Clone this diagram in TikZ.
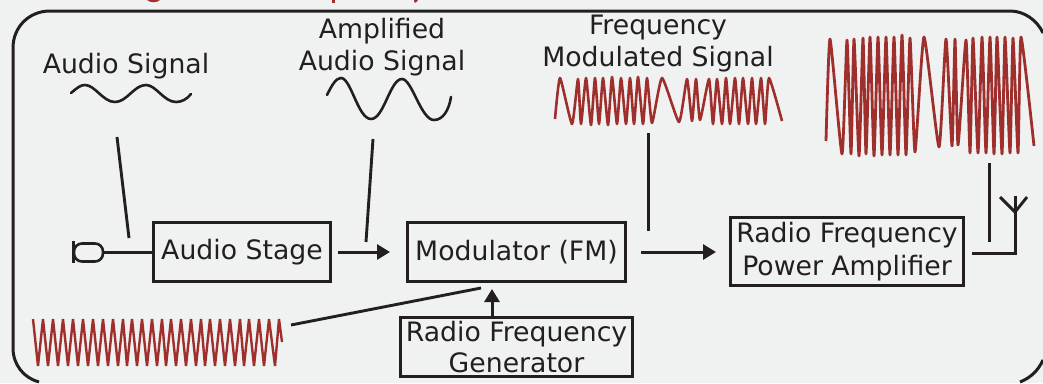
\documentclass[tikz,border=0pt]{standalone}
\usepackage{fontspec}
\setmainfont{DejaVu Sans}
\usetikzlibrary{arrows.meta}
\definecolor{bgc}{HTML}{F0F2F2}
\definecolor{inkc}{HTML}{231F20}
\definecolor{wavec}{HTML}{9E2F2D}
\tikzset{
  x=1pt,y=-1pt,
  every node/.style={text=inkc,font=\fontsize{26.7}{32}\selectfont,inner sep=0pt,align=center},
  blockbox/.style={draw=inkc,line width=3pt,rectangle},
  wire/.style={draw=inkc,line width=3pt},
  slant/.style={draw=inkc,line width=2.9pt},
  flow/.style={wire,-{Triangle[length=13pt,width=15pt]}},
  framing/.style={draw=inkc,line width=3pt},
  blackwave/.style={draw=inkc,line width=2.6pt,line cap=round},
  redwave/.style={draw=wavec,line width=2.6pt,line join=round},
}
\begin{document}
\begin{tikzpicture}
\useasboundingbox (0,0) rectangle (1043,383);
\fill[bgc] (0,0) rectangle (1043,383);
% cut-off title descenders
\fill[wavec] (147,0) .. controls (150,3) and (157,3) .. (160,0) -- cycle;
\fill[wavec] (332,0) rectangle (334.5,2.5);
\fill[wavec] (414,0) -- (418,0) -- (416,2.5) -- (414.5,2.5) -- cycle;
% frame
\draw[framing] (39,382) .. controls (24,378) and (13,365) .. (13,348) -- (13,48) .. controls (13,27) and (29,11) .. (50,11) -- (1010,11) .. controls (1024,11) and (1037,20) .. (1043,33);
\draw[framing] (1043,360) .. controls (1038,371) and (1030,378) .. (1020,382);
% blocks
\node[blockbox,minimum width=177pt,minimum height=59pt] (stage) at (242,252) {\raisebox{1pt}{Audio Stage}};
\node[blockbox,minimum width=218pt,minimum height=59pt] (mod) at (516.5,252) {\raisebox{1pt}{Modulator (FM)}};
\node[blockbox,minimum width=233pt,minimum height=68pt] (pa) at (847,251.5) {\raisebox{-1pt}{\shortstack{Radio Frequency\\[4pt]Power Amplifier}}};
\node[blockbox,minimum width=232pt,minimum height=59pt] (gen) at (516.5,347) {\raisebox{-1pt}{\shortstack{Radio Frequency\\[3pt]Generator}}};
% labels
\node (la) at (126,66) {Audio Signal};
\node (lb) at (382,47) {Amplified\\Audio Signal};
\node (lc) at (658,44) {Frequency\\Modulated Signal};
% connectors
\coordinate (mic) at (102,252);
\draw[wire] (mic) -- (stage.west |- mic);
\draw[flow] (338,252) -- (390,252);
\draw[flow] (641,252) -- (716,252);
\draw[flow] (492,316) -- (492,289);
\draw[wire] (972,253) -- (1015,253) -- (1015,196);
\draw[slant] (1000,197) -- (1015,212) -- (1027,197);
% leader lines
\draw[slant] (117,137) -- (129,238);
\draw[slant] (373,139) -- (366,242);
\draw[wire] (648,133) -- (648,231);
\draw[wire] (989,163) -- (989,242);
\draw[slant] (291,325) -- (481,288);
% microphone
\draw[inkc,line width=2.6pt,rounded corners=8pt] (74,243.5) rectangle (103,261.5);
\draw[inkc,line width=3pt] (73,241) -- (73,263);
% waves
\draw[blackwave] (71,93) .. controls (78,87) and (81,85) .. (85,85) .. controls (95,85) and (103,102) .. (115,102) .. controls (127,102) and (134,85) .. (146,85) .. controls (156,85) and (164,102) .. (176,102) .. controls (182,102) and (187,99) .. (191,94);
\draw[blackwave] (327,95) .. controls (332,85) and (336,78) .. (341,78) .. controls (351,78) and (358,119) .. (371,119) .. controls (384,119) and (390,79) .. (402,79) .. controls (412,79) and (421,120) .. (434,120) .. controls (443,120) and (449,110) .. (451,97);
\draw[redwave] plot[smooth,tension=.3] coordinates {(555,119)(560,78)(572,124)(578,79)(581,124)(586,78)(591,125)(595,78)(599,124)(603,78)(608,125)(612,77)(617,124)(621,78)(626,124)(630,78)(634,124)(638,77)(643,124)(647,78)(652,123)(662,78)(679,122)(687,79)(692,121)(696,79)(700,120)(709,79)(713,124)(717,79)(722,124)(726,78)(730,124)(735,78)(739,124)(743,78)(748,124)(752,78)(756,124)(761,78)(765,124)(769,78)(782,121)};
\draw[redwave,line width=2.8pt] plot[smooth,tension=.3] coordinates {(826,141)(830,39)(842,154)(847,40)(851,154)(854,39)(859,156)(863,38)(866,154)(870,37)(874,156)(878,37)(882,155)(886,37)(890,155)(894,37)(898,155)(902,35)(906,155)(910,38)(915,152)(924,37)(939,147)(946,39)(952,146)(955,39)(958,145)(966,40)(970,153)(973,38)(978,153)(982,37)(986,153)(990,37)(994,154)(997,37)(1002,154)(1005,37)(1010,153)(1013,38)(1018,153)(1021,37)(1034,146)};
\draw[redwave,line width=2.4pt,line join=bevel] (33,319) -- (38,366) -- (43,319) -- (48,366) -- (53,319) -- (58,366) -- (63,319) -- (68,366) -- (73,319) -- (78,366) -- (83,319) -- (88,366) -- (93,319) -- (98,366) -- (103,319) -- (108,366) -- (113,319) -- (118,366) -- (123,319) -- (127,366) -- (132,319) -- (137,366) -- (142,319) -- (147,366) -- (152,319) -- (157,366) -- (162,319) -- (166,366) -- (171,319) -- (176,366) -- (181,319) -- (186,366) -- (191,319) -- (196,366) -- (201,319) -- (205,366) -- (210,319) -- (215,366) -- (220,319) -- (225,366) -- (230,319) -- (235,366) -- (240,319) -- (244,366) -- (249,319) -- (254,366) -- (259,319) -- (264,366) -- (269,319) -- (275,366) -- (279,319) -- (282,342);
\end{tikzpicture}
\end{document}
